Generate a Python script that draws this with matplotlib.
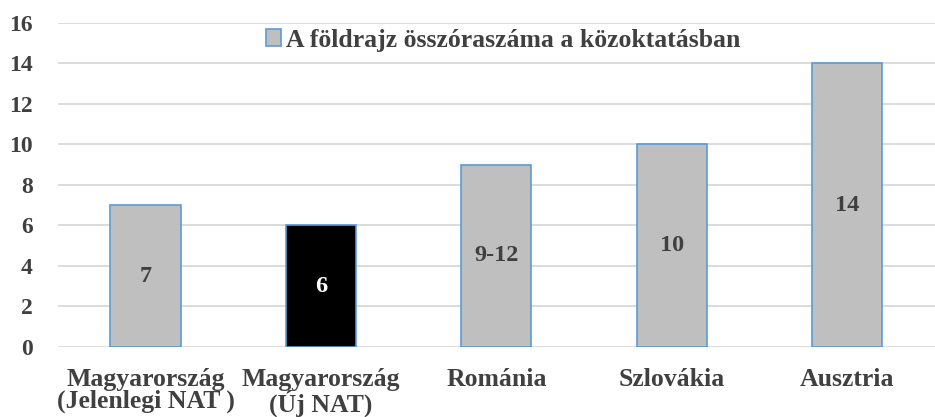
import matplotlib
matplotlib.use('Agg')
import matplotlib.pyplot as plt
from matplotlib.patches import Patch

categories = ["Magyarország\n(Jelenlegi NAT )", "Magyarország\n(Új NAT)",
              "Románia", "Szlovákia", "Ausztria"]
values = [7, 6, 9, 10, 14]
value_labels = ["7", "6", "9-12", "10", "14"]
legend_label = "A földrajz összóraszáma a közoktatásban"

GRAY = "#BFBFBF"
EDGE = "#5B9BD5"
TEXT = "#404040"

plt.rcParams['font.family'] = ['Liberation Serif', 'DejaVu Serif']
plt.rcParams['font.weight'] = 'bold'

fig = plt.figure(figsize=(9.35, 4.17), dpi=100)
ax = fig.add_axes([0.0618, 0.168, 0.9382, 0.777])

colors = [GRAY, "black", GRAY, GRAY, GRAY]
x = range(len(categories))
bars = ax.bar(x, values, width=0.4, color=colors, edgecolor=EDGE, linewidth=1.2, zorder=3)

for b, lab, c in zip(bars, value_labels, colors):
    tc = "white" if c == "black" else TEXT
    ax.text(b.get_x() + b.get_width() / 2, b.get_height() / 2, lab,
            ha="center", va="center", fontsize=17.5, fontweight="bold", color=tc, zorder=4)

ax.set_xlim(-0.5, len(categories) - 0.5)
ax.set_ylim(0, 16)
ax.set_yticks(range(0, 17, 2))
ax.set_xticks(list(x))
ax.set_xticklabels(categories, fontsize=18.5, fontweight="bold", color=TEXT, linespacing=0.95)
ax.tick_params(axis="y", labelsize=17, labelcolor=TEXT, length=0, pad=18)
ax.tick_params(axis="x", length=0, pad=15)
for lbl in ax.get_yticklabels():
    lbl.set_fontweight("bold")

ax.grid(axis="y", color="#D9D9D9", linewidth=1.3, zorder=0)
for s in ax.spines.values():
    s.set_visible(False)

handle = Patch(facecolor=GRAY, edgecolor=EDGE, linewidth=1.2)
ax.legend([handle], [legend_label], loc="center", bbox_to_anchor=(0.508, 0.947),
          frameon=False, handlelength=0.6, handleheight=0.6,
          handletextpad=0.2, labelcolor=TEXT, prop={"weight": "bold", "size": 18.5})

fig.savefig("out.png", dpi=100)
